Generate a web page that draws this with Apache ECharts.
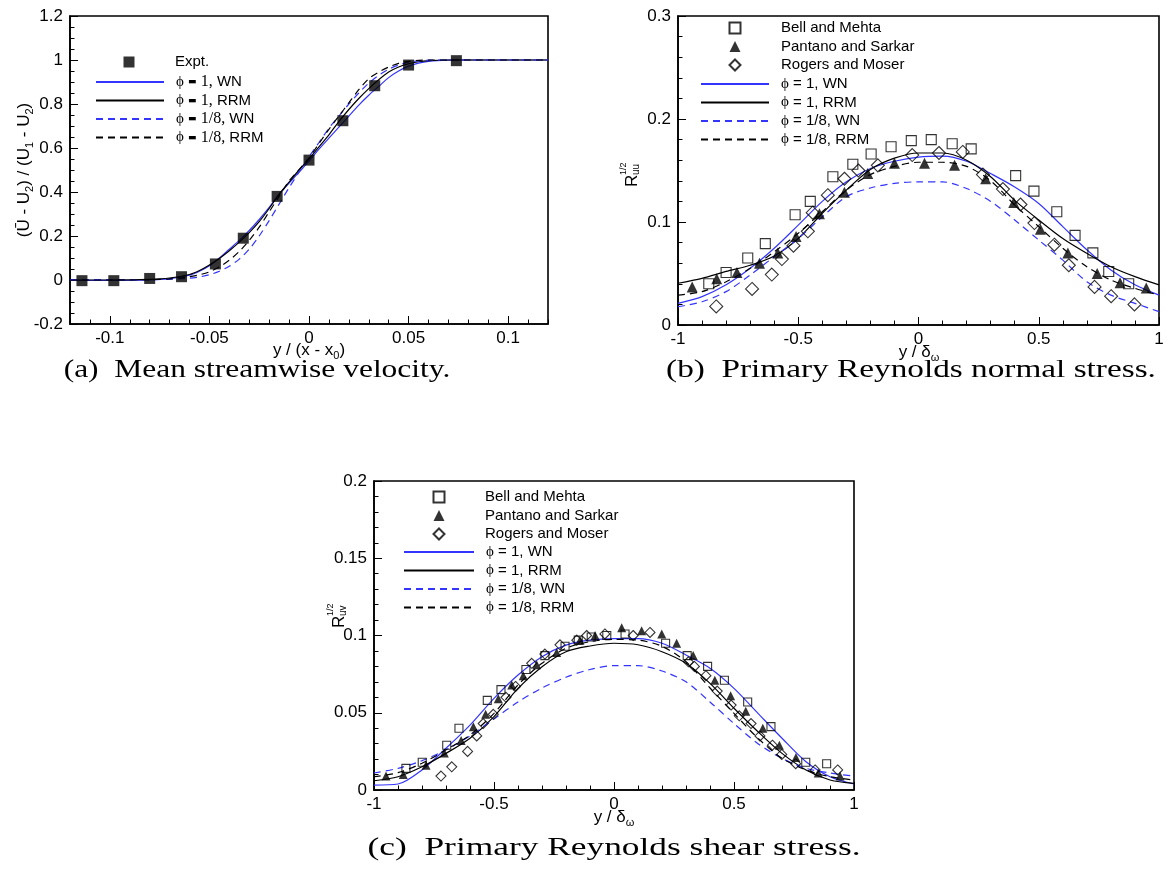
<!DOCTYPE html>
<html>
<head>
<meta charset="utf-8">
<script src="https://cdn.jsdelivr.net/npm/echarts@6/dist/echarts.min.js"></script>
<style>
html, body { margin: 0; padding: 0; background: #fff; }
#chart { width: 1167px; height: 871px; }
</style>
</head>
<body>
<div id="chart"></div>
<script>
// ---------- (a) mean streamwise velocity ----------
const aMajorX = [-0.1, -0.05, 0, 0.05, 0.1];
const aExptX = [-0.114, -0.098, -0.080, -0.064, -0.047, -0.033, -0.016, 0.0, 0.017, 0.033, 0.050, 0.074];
const aExptY = [-0.003, -0.003, 0.007, 0.015, 0.073, 0.19, 0.38, 0.545, 0.724, 0.883, 0.977, 0.997];
const aProfileX = [-0.12, -0.1, -0.08, -0.07, -0.06, -0.055, -0.05, -0.045, -0.04, -0.035, -0.03, -0.025, -0.02, -0.015, -0.01, -0.005,
  0, 0.005, 0.01, 0.015, 0.02, 0.025, 0.03, 0.035, 0.04, 0.045, 0.05, 0.055, 0.06, 0.07, 0.08, 0.1, 0.12];
const aWN1 = [-0.002, -0.002, 0.0, 0.006, 0.022, 0.04, 0.065, 0.1, 0.14, 0.18, 0.225, 0.275, 0.33, 0.39, 0.44, 0.49,
  0.54, 0.595, 0.645, 0.695, 0.745, 0.795, 0.84, 0.88, 0.92, 0.95, 0.972, 0.986, 0.994, 0.999, 1.0, 1.0, 1.0];
const aRRM1 = [0.0, 0.0, 0.003, 0.009, 0.025, 0.043, 0.068, 0.098, 0.133, 0.172, 0.215, 0.265, 0.325, 0.39, 0.445, 0.5,
  0.55, 0.605, 0.66, 0.72, 0.775, 0.825, 0.87, 0.91, 0.945, 0.968, 0.983, 0.992, 0.997, 1.0, 1.0, 1.0, 1.0];
const aWN8 = [0.002, 0.002, 0.002, 0.003, 0.008, 0.014, 0.024, 0.04, 0.063, 0.095, 0.14, 0.2, 0.27, 0.345, 0.42, 0.49,
  0.56, 0.625, 0.69, 0.745, 0.8, 0.85, 0.895, 0.93, 0.958, 0.977, 0.99, 0.996, 0.999, 1.0, 1.0, 1.0, 1.0];
const aRRM8 = [0.0, 0.0, 0.002, 0.005, 0.015, 0.024, 0.037, 0.06, 0.09, 0.13, 0.18, 0.24, 0.31, 0.38, 0.45, 0.502,
  0.555, 0.62, 0.685, 0.745, 0.805, 0.865, 0.915, 0.945, 0.968, 0.985, 0.994, 0.998, 1.0, 1.0, 1.0, 1.0, 1.0];

// ---------- (b) primary Reynolds normal stress ----------
const bProfileX = [-1, -0.9, -0.8, -0.7, -0.6, -0.5, -0.4, -0.3, -0.2, -0.1, 0, 0.1, 0.2, 0.3, 0.4, 0.5, 0.6, 0.7, 0.8, 0.9, 1];
const bWN1 = [0.021, 0.0275, 0.039, 0.055, 0.0745, 0.097, 0.12, 0.139, 0.152, 0.159, 0.163, 0.164, 0.159, 0.147, 0.134, 0.118, 0.0955, 0.073, 0.0534, 0.039, 0.029];
const bRRM1 = [0.0405, 0.0453, 0.052, 0.058, 0.067, 0.084, 0.1085, 0.131, 0.151, 0.162, 0.167, 0.167, 0.16, 0.144, 0.121, 0.102, 0.084, 0.0696, 0.0566, 0.047, 0.039];
const bWN8 = [0.0178, 0.0226, 0.0324, 0.0485, 0.0663, 0.084, 0.105, 0.1246, 0.133, 0.1375, 0.139, 0.139, 0.1325, 0.12, 0.102, 0.0825, 0.063, 0.042, 0.029, 0.021, 0.013];
const bRRM8 = [0.029, 0.0324, 0.042, 0.055, 0.071, 0.089, 0.11, 0.131, 0.146, 0.154, 0.158, 0.158, 0.154, 0.14, 0.1165, 0.0955, 0.0745, 0.0566, 0.0437, 0.0356, 0.029];
const bBellX = [-0.872, -0.80, -0.71, -0.637, -0.513, -0.45, -0.356, -0.273, -0.197, -0.114, -0.03, 0.053, 0.14, 0.219, 0.404, 0.48, 0.575, 0.651, 0.725, 0.791, 0.874];
const bBellY = [0.040, 0.051, 0.065, 0.079, 0.107, 0.120, 0.144, 0.156, 0.166, 0.173, 0.179, 0.180, 0.176, 0.171, 0.145, 0.130, 0.110, 0.087, 0.070, 0.052, 0.040];
const bPantX = [-0.941, -0.839, -0.755, -0.661, -0.585, -0.509, -0.412, -0.308, -0.211, -0.1, 0.025, 0.15, 0.279, 0.396, 0.507, 0.621, 0.743, 0.838, 0.947];
const bPantY = [0.037, 0.045, 0.051, 0.060, 0.070, 0.086, 0.108, 0.129, 0.147, 0.157, 0.157, 0.155, 0.142, 0.119, 0.093, 0.070, 0.050, 0.041, 0.036];
const bRogX = [-0.841, -0.692, -0.61, -0.568, -0.52, -0.46, -0.44, -0.377, -0.308, -0.25, -0.169, -0.026, 0.085, 0.184, 0.268, 0.351, 0.424, 0.482, 0.565, 0.625, 0.732, 0.801, 0.898];
const bRogY = [0.018, 0.035, 0.049, 0.064, 0.077, 0.091, 0.109, 0.126, 0.142, 0.150, 0.155, 0.165, 0.167, 0.168, 0.146, 0.132, 0.117, 0.099, 0.078, 0.058, 0.037, 0.028, 0.020];

// ---------- (c) primary Reynolds shear stress ----------
const cProfileX = [-1, -0.9, -0.8, -0.7, -0.6, -0.5, -0.4, -0.3, -0.2, -0.1, 0, 0.1, 0.2, 0.3, 0.4, 0.5, 0.6, 0.7, 0.8, 0.9, 1];
const cWN1 = [0.0032, 0.0039, 0.013, 0.027, 0.042, 0.0593, 0.0744, 0.0863, 0.0938, 0.097, 0.098, 0.098, 0.095, 0.0874, 0.0788, 0.0658, 0.0496, 0.0335, 0.0183, 0.0086, 0.0039];
const cRRM1 = [0.006, 0.0086, 0.015, 0.0237, 0.0335, 0.0475, 0.0658, 0.0798, 0.0895, 0.0932, 0.095, 0.094, 0.0895, 0.082, 0.069, 0.0529, 0.0377, 0.0237, 0.013, 0.0065, 0.0043];
const cWN8 = [0.011, 0.014, 0.019, 0.026, 0.035, 0.046, 0.057, 0.066, 0.073, 0.078, 0.0805, 0.0805, 0.077, 0.070, 0.057, 0.043, 0.030, 0.0205, 0.014, 0.011, 0.009];
const cRRM8 = [0.0086, 0.0112, 0.0173, 0.026, 0.0356, 0.0496, 0.068, 0.082, 0.0917, 0.096, 0.0975, 0.097, 0.093, 0.083, 0.066, 0.0496, 0.0335, 0.0205, 0.013, 0.0086, 0.0065];
const cBellX = [-0.867, -0.799, -0.697, -0.646, -0.528, -0.471, -0.367, -0.288, -0.204, -0.149, -0.095, -0.03, 0.046, 0.215, 0.305, 0.39, 0.46, 0.557, 0.654, 0.799, 0.886];
const cBellY = [0.014, 0.018, 0.029, 0.040, 0.058, 0.065, 0.078, 0.087, 0.093, 0.097, 0.099, 0.100, 0.101, 0.095, 0.087, 0.080, 0.071, 0.057, 0.041, 0.018, 0.017];
const cPantX = [-0.95, -0.878, -0.783, -0.707, -0.637, -0.586, -0.535, -0.482, -0.426, -0.378, -0.322, -0.239, -0.142, -0.079, 0.032, 0.115, 0.199, 0.261, 0.33, 0.42, 0.486, 0.549, 0.62, 0.689, 0.758, 0.851, 0.942];
const cPantY = [0.009, 0.010, 0.016, 0.024, 0.032, 0.041, 0.049, 0.059, 0.068, 0.074, 0.081, 0.089, 0.097, 0.100, 0.105, 0.103, 0.101, 0.095, 0.087, 0.071, 0.061, 0.051, 0.040, 0.029, 0.021, 0.011, 0.009];
const cRogX = [-0.721, -0.676, -0.61, -0.572, -0.545, -0.503, -0.45, -0.41, -0.343, -0.288, -0.225, -0.155, -0.114, -0.038, 0.08, 0.15, 0.31, 0.335, 0.383, 0.43, 0.488, 0.522, 0.571, 0.608, 0.66, 0.699, 0.757, 0.838, 0.932];
const cRogY = [0.009, 0.015, 0.025, 0.035, 0.043, 0.049, 0.060, 0.067, 0.082, 0.088, 0.094, 0.097, 0.100, 0.101, 0.100, 0.102, 0.083, 0.080, 0.074, 0.064, 0.055, 0.048, 0.043, 0.035, 0.029, 0.023, 0.017, 0.013, 0.013];

// ---------- styling helpers ----------
const BLUE = '#3434ff';
const SANS = 'Liberation Sans, Arial, Helvetica, sans-serif';
const SERIF = 'Liberation Serif, Times New Roman, serif';
const DASH = [7, 5];

const zip = (xs, ys) => xs.map((x, i) => [x, ys[i]]);

function curve(name, idx, xs, ys, color, dashed) {
  return {
    type: 'line', name: name, xAxisIndex: idx, yAxisIndex: idx,
    data: zip(xs, ys), smooth: 0.3, symbol: 'none', showSymbol: false,
    lineStyle: { color: color, width: 1.2, type: dashed ? DASH : 'solid' },
    itemStyle: { color: color },
    z: 2
  };
}
function points(name, idx, xs, ys, symbol, size, filled) {
  return {
    type: 'scatter', name: name, xAxisIndex: idx, yAxisIndex: idx,
    data: zip(xs, ys), symbol: symbol, symbolSize: size, symbolKeepAspect: true,
    itemStyle: filled ? { color: '#000', borderColor: '#000', borderWidth: 0 }
                      : { color: 'rgba(255,255,255,0)', borderColor: '#000', borderWidth: 1.1 },
    z: 3
  };
}

function xAxisCfg(grid, min, max, interval, minorSplit) {
  return {
    type: 'value', gridIndex: grid, min: min, max: max, interval: interval, position: 'bottom',
    axisLine: { show: true, onZero: false, lineStyle: { color: '#000', width: 1.6 } },
    axisTick: { show: true, inside: true, length: 8, lineStyle: { color: '#000', width: 1 } },
    minorTick: { show: !!minorSplit, splitNumber: minorSplit || 5, length: 4.5, lineStyle: { color: '#000', width: 1 } },
    axisLabel: { color: '#000', fontSize: 17, fontFamily: SANS, margin: 6 },
    splitLine: { show: false }, minorSplitLine: { show: false }
  };
}
function yAxisCfg(grid, min, max, interval, minorSplit) {
  return {
    type: 'value', gridIndex: grid, min: min, max: max, interval: interval, position: 'left',
    axisLine: { show: true, onZero: false, lineStyle: { color: '#000', width: 1.6 } },
    axisTick: { show: true, inside: true, length: 8, lineStyle: { color: '#000', width: 1 } },
    minorTick: { show: true, splitNumber: minorSplit, length: 4.5, lineStyle: { color: '#000', width: 1 } },
    axisLabel: { color: '#000', fontSize: 17, fontFamily: SANS, margin: 7 },
    splitLine: { show: false }, minorSplitLine: { show: false }
  };
}

// legend labels
const legendRich = {
  g: { width: 7 },
  G: { width: 35.5 },
  t: { fontFamily: SANS, fontSize: 15, color: '#000' },
  p: { fontFamily: SERIF, fontSize: 15, color: '#000' },
  n: { fontFamily: SERIF, fontSize: 16, color: '#000' },
  b: { fontFamily: 'DejaVu Sans', fontSize: 9, color: '#000' }
};
const legendText = {
  'Expt.': '{G|}{t|Expt.}',
  'ϕ ▬ 1, WN': '{g|}{p|ϕ} {b|▬} {n|1,} {t|WN}',
  'ϕ ▬ 1, RRM': '{g|}{p|ϕ} {b|▬} {n|1,} {t|RRM}',
  'ϕ ▬ 1/8, WN': '{g|}{p|ϕ} {b|▬} {n|1/8,} {t|WN}',
  'ϕ ▬ 1/8, RRM': '{g|}{p|ϕ} {b|▬} {n|1/8,} {t|RRM}',
  'Bell and Mehta': '{G|}{t|Bell and Mehta}',
  'Pantano and Sarkar': '{G|}{t|Pantano and Sarkar}',
  'Rogers and Moser': '{G|}{t|Rogers and Moser}',
  'ϕ = 1, WN': '{g|}{p|ϕ}{t| = 1, WN}',
  'ϕ = 1, RRM': '{g|}{p|ϕ}{t| = 1, RRM}',
  'ϕ = 1/8, WN': '{g|}{p|ϕ}{t| = 1/8, WN}',
  'ϕ = 1/8, RRM': '{g|}{p|ϕ}{t| = 1/8, RRM}'
};
const markerLegend = {
  a: ['Expt.'],
  bc: ['Bell and Mehta', 'Pantano and Sarkar', 'Rogers and Moser']
};
const lineLegend = {
  a: ['ϕ ▬ 1, WN', 'ϕ ▬ 1, RRM', 'ϕ ▬ 1/8, WN', 'ϕ ▬ 1/8, RRM'],
  bc: ['ϕ = 1, WN', 'ϕ = 1, RRM', 'ϕ = 1/8, WN', 'ϕ = 1/8, RRM']
};
function legendCfg(names, left, top, itemWidth, isLine, gap) {
  return {
    orient: 'vertical', left: left, top: top, padding: 0, itemGap: gap || 3.5,
    itemWidth: itemWidth, itemHeight: 11, selectedMode: false, align: 'left', symbolKeepAspect: true,
    data: names.map(n => isLine ? { name: n, itemStyle: { opacity: 0 } } : { name: n }),
    formatter: n => legendText[n],
    textStyle: { fontFamily: SANS, fontSize: 15, color: '#000', rich: legendRich }
  };
}

// axis titles and captions
const subStyle = { fontFamily: SANS, fontSize: 11, fill: '#000', verticalAlign: 'bottom', lineHeight: 22 };
const mainStyle = { fontFamily: SANS, fontSize: 17, fill: '#000', lineHeight: 22 };
function richText(x, y, text, rotation) {
  return {
    type: 'text', x: x, y: y, rotation: rotation || 0, silent: true,
    style: { text: text, align: 'center', verticalAlign: 'middle', fontFamily: SANS, fontSize: 17, fill: '#000',
      rich: { m: mainStyle, s: subStyle } }
  };
}
function caption(x, y, text, sx) {
  return {
    type: 'text', x: x, y: y, scaleX: sx, silent: true,
    style: { text: text, align: 'center', verticalAlign: 'middle', fontFamily: SERIF, fontSize: 26, fill: '#000' }
  };
}
function rLabel(x, y, sub) {
  return {
    type: 'group', x: x, y: y, rotation: Math.PI / 2, silent: true,
    children: [
      { type: 'text', x: 0, y: 0, style: { text: 'R', align: 'left', verticalAlign: 'middle', fontFamily: SANS, fontSize: 17, fill: '#000' } },
      { type: 'text', x: 12, y: 4, style: { text: sub, align: 'left', verticalAlign: 'middle', fontFamily: SANS, fontSize: 10, fill: '#000' } },
      { type: 'text', x: 12, y: -8, style: { text: '1/2', align: 'left', verticalAlign: 'middle', fontFamily: SANS, fontSize: 9, fill: '#000' } }
    ]
  };
}

const gridBox = { show: true, borderColor: '#000', borderWidth: 1.6, backgroundColor: 'rgba(0,0,0,0)', containLabel: false };

const option = {
  animation: false,
  backgroundColor: '#fff',
  grid: [
    Object.assign({ left: 70, top: 16, width: 478, height: 308 }, gridBox),
    Object.assign({ left: 678, top: 16, width: 481, height: 309 }, gridBox),
    Object.assign({ left: 374, top: 481, width: 480, height: 309 }, gridBox)
  ],
  xAxis: [
    // (a) minor ticks every 0.01, labels only at the major values
    Object.assign(xAxisCfg(0, -0.12, 0.12, 0.01, 0), {
      axisTick: { show: true, inside: true, length: 4.5, lineStyle: { color: '#000', width: 1 } },
      axisLabel: { color: '#000', fontSize: 17, fontFamily: SANS, margin: 6, customValues: aMajorX }
    }),
    xAxisCfg(1, -1, 1, 0.5, 5),
    xAxisCfg(2, -1, 1, 0.5, 5),
    // (a) long ticks at the major values
    {
      type: 'value', gridIndex: 0, min: -0.12, max: 0.12, interval: 0.01, position: 'bottom',
      axisLine: { show: false, onZero: false },
      axisTick: { show: true, inside: true, length: 8, customValues: aMajorX, lineStyle: { color: '#000', width: 1 } },
      axisLabel: { show: false }, splitLine: { show: false }
    }
  ],
  yAxis: [
    yAxisCfg(0, -0.2, 1.2, 0.2, 4),
    yAxisCfg(1, 0, 0.3, 0.1, 5),
    yAxisCfg(2, 0, 0.2, 0.05, 5)
  ],
  legend: [
    legendCfg(markerLegend.a, 123.5, 54.5, 11, false),
    legendCfg(lineLegend.a, 95, 74, 68, true, 2.5),
    legendCfg(markerLegend.bc, 728.5, 20.5, 11, false),
    legendCfg(lineLegend.bc, 700, 76.5, 68, true),
    legendCfg(markerLegend.bc, 432.5, 489.5, 11, false),
    legendCfg(lineLegend.bc, 403, 544.5, 70, true)
  ],
  series: [
    // (a)
    curve('ϕ ▬ 1, WN', 0, aProfileX, aWN1, BLUE, false),
    curve('ϕ ▬ 1, RRM', 0, aProfileX, aRRM1, '#000', false),
    curve('ϕ ▬ 1/8, WN', 0, aProfileX, aWN8, BLUE, true),
    curve('ϕ ▬ 1/8, RRM', 0, aProfileX, aRRM8, '#000', true),
    points('Expt.', 0, aExptX, aExptY, 'rect', 11, true),
    // (b)
    curve('ϕ = 1, WN', 1, bProfileX, bWN1, BLUE, false),
    curve('ϕ = 1, RRM', 1, bProfileX, bRRM1, '#000', false),
    curve('ϕ = 1/8, WN', 1, bProfileX, bWN8, BLUE, true),
    curve('ϕ = 1/8, RRM', 1, bProfileX, bRRM8, '#000', true),
    points('Bell and Mehta', 1, bBellX, bBellY, 'rect', 10, false),
    points('Pantano and Sarkar', 1, bPantX, bPantY, 'triangle', 11, true),
    points('Rogers and Moser', 1, bRogX, bRogY, 'diamond', 13, false),
    // (c)
    curve('ϕ = 1, WN', 2, cProfileX, cWN1, BLUE, false),
    curve('ϕ = 1, RRM', 2, cProfileX, cRRM1, '#000', false),
    curve('ϕ = 1/8, WN', 2, cProfileX, cWN8, BLUE, true),
    curve('ϕ = 1/8, RRM', 2, cProfileX, cRRM8, '#000', true),
    points('Bell and Mehta', 2, cBellX, cBellY, 'rect', 8, false),
    points('Pantano and Sarkar', 2, cPantX, cPantY, 'triangle', 9, true),
    points('Rogers and Moser', 2, cRogX, cRogY, 'diamond', 10, false)
  ],
  graphic: [
    richText(309, 350, '{m|y / (x - x}{s|0}{m|)}'),
    richText(24, 170, '{m|(Ū - U}{s|2}{m|) / (U}{s|1}{m| - U}{s|2}{m|)}', Math.PI / 2),
    richText(919, 352, '{m|y / δ}{s|ω}'),
    richText(614, 817, '{m|y / δ}{s|ω}'),
    rLabel(632, 187, 'uu'),
    rLabel(339, 628, 'uv'),
    caption(257, 370, '(a)  Mean streamwise velocity.', 1.21),
    caption(911, 370, '(b)  Primary Reynolds normal stress.', 1.28),
    caption(614, 848, '(c)  Primary Reynolds shear stress.', 1.36)
  ]
};

const chart = echarts.init(document.getElementById('chart'), null, { renderer: 'canvas' });
chart.setOption(option);
</script>
</body>
</html>
